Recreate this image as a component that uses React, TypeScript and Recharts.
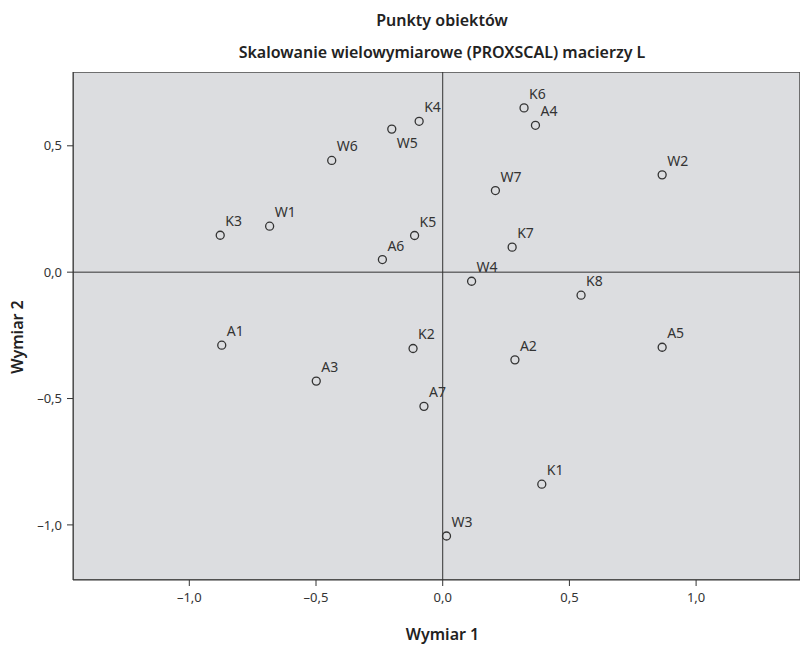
import React from 'react';
import { ScatterChart, Scatter, XAxis, YAxis, ReferenceLine, ReferenceArea } from 'recharts';

// object coordinates from the PROXSCAL solution
const objectNames = ['K3', 'W1', 'W6', 'W5', 'K4', 'K5', 'A6', 'K6', 'A4', 'W2', 'W7', 'K7', 'W4', 'K8', 'A1', 'A3', 'K2', 'A7', 'A2', 'A5', 'K1', 'W3'];
const dimension1 = [-0.878, -0.683, -0.438, -0.201, -0.093, -0.111, -0.238, 0.321, 0.366, 0.866, 0.208, 0.274, 0.114, 0.546, -0.872, -0.499, -0.117, -0.074, 0.285, 0.866, 0.391, 0.015];
const dimension2 = [0.146, 0.182, 0.442, 0.566, 0.597, 0.145, 0.05, 0.65, 0.581, 0.385, 0.323, 0.099, -0.036, -0.091, -0.289, -0.431, -0.302, -0.531, -0.347, -0.297, -0.839, -1.044];
const xTicks = [-1, -0.5, 0, 0.5, 1];
const yTicks = [-1, -0.5, 0, 0.5];

const points = objectNames.map((name, i) => ({ name, x: dimension1[i], y: dimension2[i] }));

const xDomain = [-1.459, 1.41];
const yDomain = [-1.218, 0.792];

const FONT = '"Noto Sans", sans-serif';

const fmt = (v: number) => (v < 0 ? '\u2013' : '') + Math.abs(v).toFixed(1).replace('.', ',');

const PointMark = (props: any) => {
  const { cx, cy, payload } = props;
  // W5 sits right under K4, so its label goes below
  const below = payload.name === 'W5';
  return (
    <g>
      <circle cx={cx} cy={cy} r={4} fill="none" stroke="#333" strokeWidth={1.3} />
      <text x={cx + 5} y={below ? cy + 19 : cy - 9} fontSize={14} fill="#333" fontFamily={FONT}>
        {payload.name}
      </text>
    </g>
  );
};

const YTitle = () => (
  <text x={17} y={337} transform="rotate(-90 17 337)" textAnchor="middle" dy="0.35em" fontSize={16} fontWeight={600} fill="#222" fontFamily={FONT}>
    Wymiar 2
  </text>
);

const titleStyle: React.CSSProperties = {
  position: 'absolute',
  left: 0,
  width: 801,
  height: 24,
  lineHeight: '24px',
  textAlign: 'center',
  fontSize: 16,
  fontWeight: 600,
  color: '#222',
  paddingLeft: 83,
  boxSizing: 'border-box',
};

export default function App() {
  return (
    <div style={{ position: 'absolute', left: 0, top: 0, width: 801, height: 648, background: '#fff', fontFamily: FONT, overflow: 'hidden' }}>
      <div style={{ ...titleStyle, top: 8 }}>Punkty obiektów</div>
      <div style={{ ...titleStyle, top: 40 }}>Skalowanie wielowymiarowe (PROXSCAL) macierzy L</div>
      <ScatterChart width={801} height={648} margin={{ top: 72, right: 1, bottom: 0, left: 0 }} style={{ position: 'absolute', left: 0, top: 0 }}>
        <ReferenceArea x1={xDomain[0]} x2={xDomain[1]} y1={yDomain[0]} y2={yDomain[1]} fill="#dcdde0" fillOpacity={1} stroke="#4a4a4a" strokeWidth={1.5} ifOverflow="hidden" />
        <XAxis
          type="number"
          dataKey="x"
          domain={xDomain}
          ticks={xTicks}
          allowDataOverflow
          height={68}
          tickSize={6}
          tickMargin={7}
          tickFormatter={fmt}
          axisLine={{ stroke: '#333' }}
          tickLine={{ stroke: '#333' }}
          tick={{ fill: '#333', fontSize: 13, fontFamily: FONT }}
          label={{ value: 'Wymiar 1', position: 'insideBottom', offset: 8, dx: 6, fontSize: 16, fontWeight: 600, fill: '#222', fontFamily: FONT }}
        />
        <YAxis
          type="number"
          dataKey="y"
          domain={yDomain}
          ticks={yTicks}
          allowDataOverflow
          width={73}
          tickSize={6}
          tickMargin={5}
          tickFormatter={fmt}
          axisLine={{ stroke: '#333' }}
          tickLine={{ stroke: '#333' }}
          tick={{ fill: '#333', fontSize: 13, fontFamily: FONT }}
          label={<YTitle />}
        />
        <ReferenceLine x={0} stroke="#333" strokeWidth={1} />
        <ReferenceLine y={0} stroke="#333" strokeWidth={1} />
        <Scatter data={points} shape={<PointMark />} isAnimationActive={false} />
      </ScatterChart>
    </div>
  );
}
